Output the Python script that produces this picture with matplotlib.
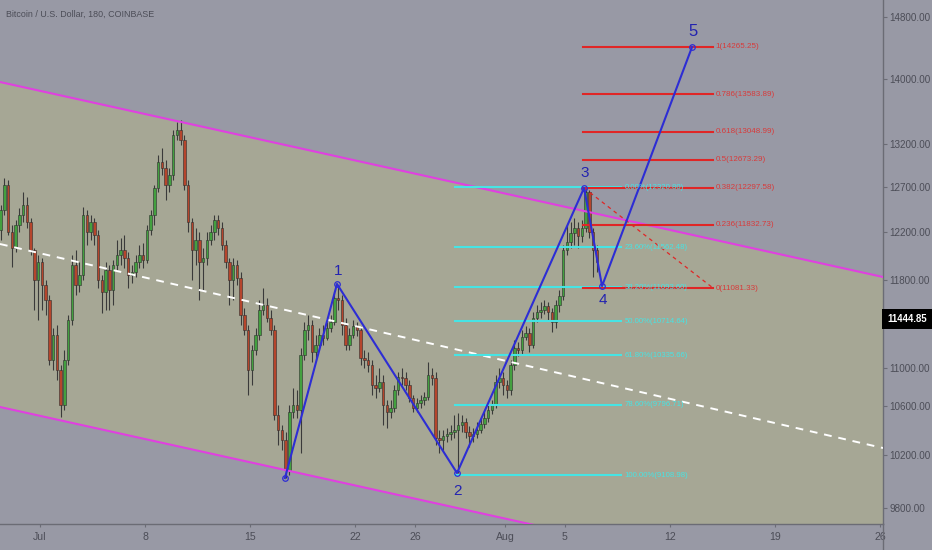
import numpy as np
import pandas as pd
import matplotlib
matplotlib.use("Agg")
import matplotlib.pyplot as plt
from matplotlib.lines import Line2D
from matplotlib.ticker import NullLocator

# ------------------------------------------------------------------ data
TITLE = "Bitcoin / U.S. Dollar, 180, COINBASE"

TICK_PRICES = [9800, 10200, 10600, 11000, 11800, 12200, 12700, 13200, 14000, 14800]
X_TICK_DAYS = [0, 7, 14, 21, 25, 31, 35, 42, 49, 56]          # days since 1 Jul
X_TICK_LABELS = ["Jul", "8", "15", "22", "26", "Aug", "5", "12", "19", "26"]
LAST_PRICE = 11444.8
LAST_PRICE_LABEL = "11444.85"

CANDLE_START = "2019-06-28 09:00"
CANDLE_FREQ = "6h"

CLOSE = [12444, 12724, 12200, 12067, 12278, 12389, 12500, 12311, 12050, 11800,
         11950, 11755, 11618, 11073, 11300, 10979, 10611, 11073, 11436, 11925,
         11755, 11842, 12389, 12200, 12311, 12175, 11800, 11691, 11883, 11709,
         11925, 12008, 12050, 11983, 11842, 11867, 11950, 12008, 11967, 12222,
         12389, 12689, 12991, 12921, 12724, 12840, 13311, 13372, 13249, 12724,
         12311, 12050, 12133, 11950, 11983, 12133, 12200, 12333, 12244, 12092,
         11950, 11800, 11925, 11817, 11482, 11345, 10979, 11164, 11300, 11527,
         11573, 11455, 11345, 10527, 10404, 10323, 10087, 10551, 10611, 10567,
         11118, 11345, 11391, 11145, 11209, 11300, 11273, 11364, 11418, 11636,
         11618, 11391, 11209, 11300, 11382, 11345, 11091, 11073, 11027, 10821,
         10789, 10853, 10611, 10551, 10584, 10768, 10905, 10895, 10821, 10684,
         10584, 10632, 10663, 10695, 10926, 10895, 10339, 10323, 10355, 10371,
         10388, 10404, 10445, 10469, 10388, 10355, 10371, 10404, 10453, 10502,
         10567, 10611, 10853, 10895, 10821, 10768, 11027, 11182, 11164, 11282,
         11318, 11209, 11455, 11509, 11527, 11564, 11509, 11418, 11573, 11655,
         12050, 12117, 12192, 12244, 12167, 12244, 12644, 12200, 12050, 11950]

OPEN = [12222, 12444, 12724, 12200, 12067, 12278, 12389, 12500, 12311, 12050,
        11800, 11950, 11755, 11618, 11073, 11300, 10979, 10611, 11073, 11436,
        11925, 11755, 11842, 12389, 12200, 12311, 12175, 11800, 11691, 11883,
        11709, 11925, 12008, 12050, 11983, 11842, 11867, 11950, 12008, 11967,
        12222, 12389, 12689, 12991, 12921, 12724, 12840, 13311, 13372, 13249,
        12724, 12311, 12050, 12133, 11950, 11983, 12133, 12200, 12333, 12244,
        12092, 11950, 11800, 11925, 11817, 11482, 11345, 10979, 11164, 11300,
        11527, 11573, 11455, 11345, 10527, 10404, 10323, 10087, 10551, 10611,
        10567, 11118, 11345, 11391, 11145, 11209, 11300, 11273, 11364, 11418,
        11636, 11618, 11391, 11209, 11300, 11382, 11345, 11091, 11073, 11027,
        10821, 10789, 10853, 10611, 10551, 10584, 10768, 10905, 10895, 10821,
        10684, 10584, 10632, 10663, 10695, 10926, 10895, 10339, 10323, 10355,
        10371, 10388, 10404, 10445, 10469, 10388, 10355, 10371, 10404, 10453,
        10502, 10567, 10611, 10853, 10895, 10821, 10768, 11027, 11182, 11164,
        11282, 11318, 11209, 11455, 11509, 11527, 11564, 11509, 11418, 11573,
        11655, 12050, 12117, 12192, 12244, 12167, 12244, 12644, 12200, 12050]

HIGH = [12500, 12805, 12781, 12278, 12333, 12467, 12644, 12589, 12356, 12067,
        12008, 11983, 11800, 11664, 11364, 11391, 11027, 11164, 11482, 12008,
        12050, 11950, 12478, 12444, 12389, 12356, 12222, 11842, 11950, 11925,
        11967, 12133, 12150, 12175, 12033, 11925, 12008, 12092, 12108, 12278,
        12444, 12724, 13072, 13153, 13014, 12921, 13372, 13471, 13495, 13311,
        12781, 12356, 12244, 12200, 12067, 12200, 12278, 12389, 12389, 12311,
        12133, 11983, 11983, 11967, 11867, 11545, 11391, 11209, 11364, 11618,
        11727, 11636, 11527, 11391, 10611, 10445, 10388, 10611, 10789, 10768,
        11182, 11418, 11482, 11436, 11300, 11364, 11391, 11418, 11482, 11691,
        11745, 11664, 11455, 11364, 11436, 11418, 11382, 11164, 11145, 11073,
        10926, 11000, 10926, 10663, 10663, 10821, 10958, 11000, 10958, 10874,
        10716, 10684, 10716, 10747, 11055, 11000, 10958, 10404, 10404, 10420,
        10445, 10527, 10543, 10527, 10502, 10437, 10420, 10469, 10502, 10551,
        10611, 10663, 10926, 11000, 10958, 10874, 11073, 11255, 11236, 11345,
        11382, 11364, 11509, 11573, 11600, 11618, 11600, 11545, 11618, 11709,
        12092, 12278, 12311, 12356, 12311, 12333, 12700, 12667, 12244, 12092]

LOW = [12133, 12389, 12175, 11908, 12033, 12200, 12311, 12244, 12008, 11527,
       11436, 11527, 11482, 11027, 10979, 10874, 10510, 10567, 11027, 11391,
       11664, 11691, 11800, 12092, 12133, 12092, 11727, 11500, 11527, 11527,
       11573, 11883, 11925, 11900, 11727, 11773, 11825, 11900, 11900, 11942,
       12175, 12278, 12644, 12840, 12556, 12644, 12781, 13249, 13188, 12667,
       12200, 11800, 11925, 11618, 11709, 11925, 12092, 12133, 12175, 12050,
       11900, 11573, 11618, 11755, 11391, 11300, 10716, 10821, 11118, 11255,
       11482, 11418, 11300, 10486, 10282, 10241, 10026, 10049, 10502, 10502,
       10216, 11073, 11255, 11055, 11073, 11164, 11209, 11255, 11327, 11391,
       11527, 11300, 11164, 11164, 11273, 11291, 11027, 11000, 10958, 10716,
       10684, 10747, 10445, 10420, 10502, 10551, 10716, 10821, 10768, 10642,
       10551, 10551, 10584, 10611, 10663, 10821, 10282, 10216, 10241, 10306,
       10323, 10339, 10064, 10388, 10339, 10265, 10306, 10339, 10380, 10420,
       10469, 10535, 10584, 10789, 10716, 10684, 10716, 10979, 11109, 11127,
       11255, 11145, 11182, 11418, 11455, 11491, 11436, 11327, 11364, 11509,
       11618, 12008, 12067, 12092, 12067, 12117, 12200, 12150, 11825, 11867]

CHANNEL_DAYS = [-2.67, 56.2]
CHANNEL_UPPER = [13963, 11825]
CHANNEL_LOWER = [10592, 9090]
MIDLINE = [12100, 10257]

WAVE_DAYS = [16.33, 19.8, 27.8, 36.27, 37.47, 43.47]
WAVE_PRICES = [10026, 11764, 10064, 12689, 11745, 14413]
WAVE_LABELS = ["", "1", "2", "3", "4", "5"]

FIB_RET_DAYS = [27.67, 38.73]
FIB_RET_PRICES = [12700, 12075, 11736, 11427, 11118, 10611, 10049]
FIB_RET_LABELS = ["0.00%(12320.80)", "23.60%(11562.48)", "38.20%(11093.60)",
                  "50.00%(10714.64)", "61.80%(10335.66)", "78.60%(9796.71)",
                  "100.00%(9108.98)"]

FIB_EXT_DAYS = [36.2, 44.87]
FIB_EXT_PRICES = [14413, 13815, 13348, 13014, 12689, 12278, 11727]
FIB_EXT_LABELS = ["1(14265.25)", "0.786(13583.89)", "0.618(13048.99)",
                  "0.5(12673.29)", "0.382(12297.58)", "0.236(11832.73)",
                  "0(11081.33)"]

# ------------------------------------------------------------------ layout / style
W, H = 932, 550
AX_RIGHT_PX, AX_BOTTOM_PX = 883, 524
# price-axis screen anchors (pixel rows of the tick labels)
AXIS_PX = [508, 455, 406, 368, 280, 232, 187, 144, 79, 17]

BG = "#9899a5"
CHANNEL_FILL = "#a6a795"
MAGENTA = "#e040e0"
BLUE = "#2d2dd4"
BLUE_TXT = "#2323b0"
CYAN = "#46e4e4"
RED = "#e02626"
RED_TXT = "#d83a3a"
GREEN_C = "#43a03f"
RED_C = "#b5452c"
WICK = "#3a3a3a"
TXT = "#4c4d57"
AXLINE = "#6b6c75"

plt.rcParams["font.family"] = ["Liberation Sans", "DejaVu Sans"]

# custom price scale: piecewise linear through the tick anchors
sp = np.array(TICK_PRICES, float)
spx = np.array(AXIS_PX, float)
lo_slope = (spx[0] - spx[1]) / (sp[1] - sp[0])
hi_slope = (spx[-2] - spx[-1]) / (sp[-1] - sp[-2])
ext_p = np.r_[sp[0] - 1e5, sp, sp[-1] + 1e5]
ext_px = np.r_[spx[0] + 1e5 * lo_slope, spx, spx[-1] - 1e5 * hi_slope]


def fwd(p):
    return -np.interp(np.asarray(p, float), ext_p, ext_px)


def inv(v):
    return np.interp(-np.asarray(v, float), ext_px[::-1], ext_p[::-1])


fig = plt.figure(figsize=(W / 100, H / 100), dpi=100, facecolor=BG)
ax = fig.add_axes([0, (H - AX_BOTTOM_PX) / H, AX_RIGHT_PX / W, AX_BOTTOM_PX / H])
ax.set_facecolor(BG)
ax.set_yscale("function", functions=(fwd, inv))
ax.set_ylim(float(inv(-AX_BOTTOM_PX)), float(inv(0)))
ax.set_xlim(-40 / 15, (AX_RIGHT_PX - 40) / 15)

# channel
cx = CHANNEL_DAYS
ax.fill([cx[0], cx[1], cx[1], cx[0]],
        [CHANNEL_UPPER[0], CHANNEL_UPPER[1], CHANNEL_LOWER[1], CHANNEL_LOWER[0]],
        color=CHANNEL_FILL, lw=0, zorder=1)

# candles
days = ((pd.date_range(CANDLE_START, periods=len(CLOSE), freq=CANDLE_FREQ)
         - pd.Timestamp("2019-07-01")) / pd.Timedelta(days=1)).to_numpy()
o = np.array(OPEN, float)
c = np.array(CLOSE, float)
cols = [GREEN_C if cc >= oo else RED_C for oo, cc in zip(o, c)]
ax.vlines(days, LOW, HIGH, colors=WICK, linewidth=0.8, zorder=3)
ax.bar(days, c - o, bottom=o, width=0.16, color=cols, edgecolor="#2e2e2e",
       linewidth=0.4, zorder=4)

# channel lines and midline
ax.plot(cx, CHANNEL_UPPER, color=MAGENTA, lw=1.5, zorder=5)
ax.plot(cx, CHANNEL_LOWER, color=MAGENTA, lw=1.5, zorder=5)
ax.plot(cx, MIDLINE, color="white", lw=1.4, ls=(0, (4, 3.5)), zorder=5)

# fib retracement (cyan)
for p, lab in zip(FIB_RET_PRICES, FIB_RET_LABELS):
    ax.plot(FIB_RET_DAYS, [p, p], color=CYAN, lw=1.5, zorder=6)
    ax.annotate(lab, xy=(FIB_RET_DAYS[1], p), xytext=(2.5, 0),
                textcoords="offset points", ha="left", va="center",
                fontsize=5.6, color=CYAN, zorder=8)

# fib extension (red)
for p, lab in zip(FIB_EXT_PRICES, FIB_EXT_LABELS):
    ax.plot(FIB_EXT_DAYS, [p, p], color=RED, lw=1.5, zorder=6)
    ax.annotate(lab, xy=(FIB_EXT_DAYS[1], p), xytext=(2.0, 0),
                textcoords="offset points", ha="left", va="center",
                fontsize=5.8, color=RED_TXT, zorder=8)
ax.plot([WAVE_DAYS[3], FIB_EXT_DAYS[1]], [WAVE_PRICES[3], FIB_EXT_PRICES[-1]],
        color=RED, lw=0.9, ls=(0, (3, 3)), zorder=6)

# Elliott wave
ax.plot(WAVE_DAYS, WAVE_PRICES, color=BLUE, lw=1.5, zorder=7,
        marker="o", ms=4, mfc="none", mec=BLUE, mew=0.9)
offsets = [0, 9.5, -13, 11, -10, 11]
for d, p, lab, off in zip(WAVE_DAYS, WAVE_PRICES, WAVE_LABELS, offsets):
    if lab:
        ax.annotate(lab, xy=(d, p), xytext=(0.5, off), textcoords="offset points",
                    ha="center", va="center", color=BLUE_TXT,
                    fontsize=12 if lab == "5" else 11, zorder=9)

# axes styling
for s in ("top", "left"):
    ax.spines[s].set_visible(False)
for s in ("right", "bottom"):
    ax.spines[s].set_color(AXLINE)
    ax.spines[s].set_linewidth(1.0)
ax.yaxis.tick_right()
ax.set_yticks(TICK_PRICES)
ax.set_yticklabels([f"{t:.2f}" for t in TICK_PRICES])
ax.yaxis.set_minor_locator(NullLocator())
ax.set_xticks(X_TICK_DAYS)
ax.set_xticklabels(X_TICK_LABELS)
ax.xaxis.set_minor_locator(NullLocator())
ax.tick_params(axis="y", direction="out", length=3, width=0.8, color=AXLINE,
               labelcolor=TXT, labelsize=7.1, pad=1.5)
ax.tick_params(axis="x", direction="out", length=2.5, width=0.8, color=AXLINE,
               labelcolor=TXT, labelsize=7.6, pad=3.5)

# right axis line continues into the time-axis strip
fig.add_artist(Line2D([AX_RIGHT_PX / W] * 2, [0, (H - AX_BOTTOM_PX) / H],
                      transform=fig.transFigure, color=AXLINE, lw=1.0))

# last price tag
ax.annotate(LAST_PRICE_LABEL, xy=(1.0, LAST_PRICE), xycoords=ax.get_yaxis_transform(),
            xytext=(3.0, 0), textcoords="offset points", ha="left", va="center",
            color="white", fontsize=6.9, fontweight="bold", annotation_clip=False,
            bbox=dict(boxstyle="square,pad=0.5", fc="black", ec="none"), zorder=10)

fig.text(6 / W, 1 - 14 / H, TITLE, ha="left", va="center", fontsize=6.4,
         color=TXT)

fig.savefig("out.png", dpi=100, facecolor=BG)
